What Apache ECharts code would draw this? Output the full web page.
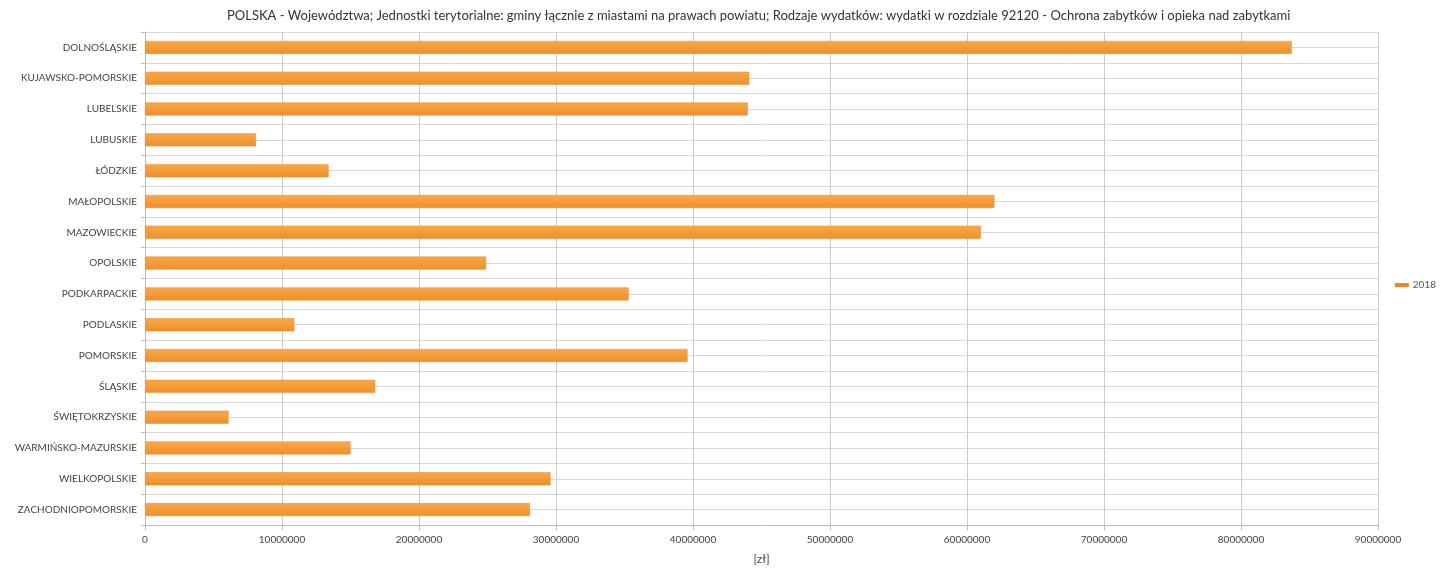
<!DOCTYPE html>
<html>
<head>
<meta charset="utf-8">
<script src="https://cdn.jsdelivr.net/npm/echarts@6/dist/echarts.min.js"></script>
<style>html,body{margin:0;padding:0;background:#fff}#c{width:1455px;height:570px}</style>
</head>
<body>
<div id="c"></div>
<script>
const titleText = 'POLSKA - Województwa; Jednostki terytorialne: gminy łącznie z miastami na prawach powiatu; Rodzaje wydatków: wydatki w rozdziale 92120 - Ochrona zabytków i opieka nad zabytkami';
const categories = ['DOLNOŚLĄSKIE','KUJAWSKO-POMORSKIE','LUBELSKIE','LUBUSKIE','ŁÓDZKIE','MAŁOPOLSKIE','MAZOWIECKIE','OPOLSKIE','PODKARPACKIE','PODLASKIE','POMORSKIE','ŚLĄSKIE','ŚWIĘTOKRZYSKIE','WARMIŃSKO-MAZURSKIE','WIELKOPOLSKIE','ZACHODNIOPOMORSKIE'];
const seriesName = '2018';
const values2018 = [83700000,44100000,44000000,8100000,13400000,62000000,61000000,24900000,35300000,10900000,39600000,16800000,6100000,15000000,29600000,28100000];
const xMin = 0, xMax = 90000000, xStep = 10000000;
const unitName = '[zł]';

const font = 'Lato, "Open Sans", sans-serif';
const chart = echarts.init(document.getElementById('c'));
chart.setOption({
  animation: false,
  backgroundColor: '#fff',
  title: {
    text: titleText, left: 222, top: 4,
    textStyle: {fontFamily: font, fontSize: 13, fontWeight: 'normal', color: '#333'}
  },
  legend: {
    right: 14, top: 'middle', orient: 'vertical',
    icon: 'rect', itemWidth: 12, itemHeight: 2, itemGap: 5,
    textStyle: {fontFamily: font, fontSize: 10, color: '#555'},
    data: [seriesName]
  },
  grid: {left: 145, right: 77, top: 32, bottom: 45},
  xAxis: {
    type: 'value', min: xMin, max: xMax, interval: xStep,
    name: unitName, nameLocation: 'middle', nameGap: 28,
    nameTextStyle: {fontFamily: font, fontSize: 12, color: '#444'},
    axisLine: {show: true, lineStyle: {color: '#bbb'}},
    axisTick: {show: true, length: 5, lineStyle: {color: '#bbb'}},
    axisLabel: {fontFamily: font, fontSize: 10, color: '#444', margin: 10, formatter: v => String(v)},
    splitLine: {show: true, lineStyle: {color: '#ccc'}}
  },
  yAxis: [{
    type: 'category', data: categories, inverse: true,
    axisLine: {show: true, lineStyle: {color: '#bbb'}},
    axisTick: {show: true, length: 4, lineStyle: {color: '#bbb'}},
    axisLabel: {fontFamily: font, fontSize: 10, color: '#444', margin: 8},
    splitLine: {show: false}
  }, {
    type: 'value', min: 0, max: 32, interval: 1, position: 'left',
    axisLine: {show: false}, axisTick: {show: false}, axisLabel: {show: false},
    splitLine: {show: true, lineStyle: {color: '#d8d8d8'}}
  }],
  series: [{
    name: seriesName, type: 'bar', yAxisIndex: 0, barWidth: 13,
    data: values2018,
    itemStyle: {
      color: new echarts.graphic.LinearGradient(0, 0, 0, 1, [
        {offset: 0, color: '#f8a849'}, {offset: 1, color: '#f08f2a'}
      ]),
      borderColor: '#e8882c', borderWidth: 0.5
    }
  }]
});
</script>
</body>
</html>
